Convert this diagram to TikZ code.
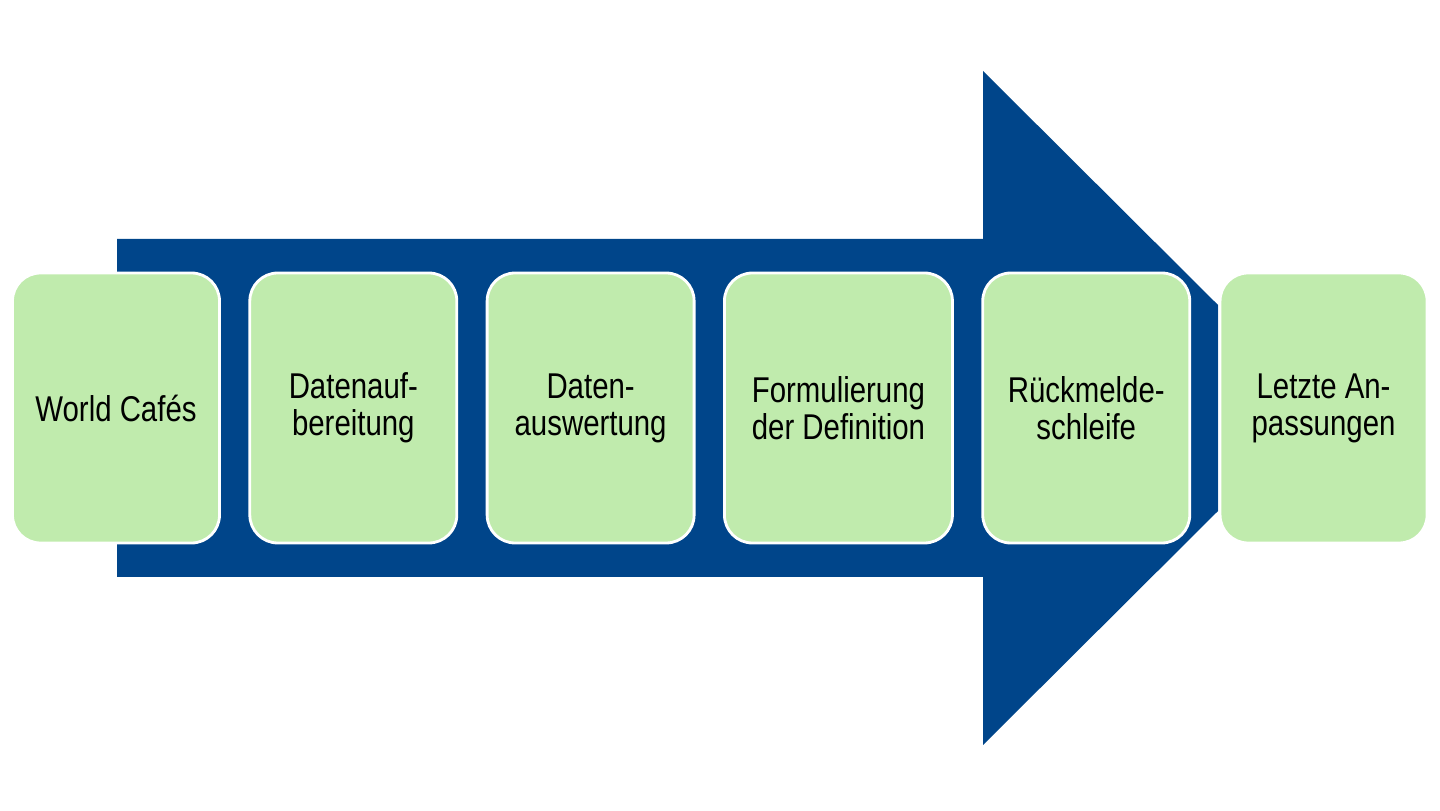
\documentclass[tikz,border=0pt]{standalone}
\usepackage{fontspec}
\setmainfont{Liberation Sans}[FakeStretch=0.82]
\usepackage{tikz}
\usepackage{xcolor}
\usetikzlibrary{positioning}
\definecolor{Navy}{HTML}{00458A}
\definecolor{Leaf}{HTML}{C0EBAD}
\tikzset{
  stage/.style={
    rectangle,rounded corners=0.56cm,draw=white,line width=1.6pt,fill=Leaf,
    minimum width=4.14cm,minimum height=5.4cm,align=center,
    font=\fontsize{20.4}{21}\selectfont,text=black,inner sep=0pt
  },
  shaft/.style={fill=Navy,draw=none}
}
\begin{document}
\begin{tikzpicture}[node distance=0.55cm]
      \useasboundingbox (0,0) rectangle (28.8,16.22);
      % big arrow behind the stages
      \fill[shaft] (2.34,11.44) -- (19.66,11.44) -- (19.66,14.8) -- (24.36,10.12)
        -- (24.36,6.0) -- (19.66,1.32) -- (19.66,4.68) -- (2.34,4.68) -- cycle;

      \node[stage] (cafe) at (2.32,8.06) {World Cafés};
      \node[stage,right=of cafe] (prep) {Datenauf-\\bereitung};
      \node[stage,right=of prep] (eval) {Daten-\\auswertung};
      \node[stage,minimum width=4.56cm,right=of eval] (form) {Formulierung\\der Definition};
      \node[stage,right=of form] (loop) {Rückmelde-\\schleife};
      \node[stage,right=of loop] (adapt) {Letzte An-\\passungen};
    \end{tikzpicture}
\end{document}
